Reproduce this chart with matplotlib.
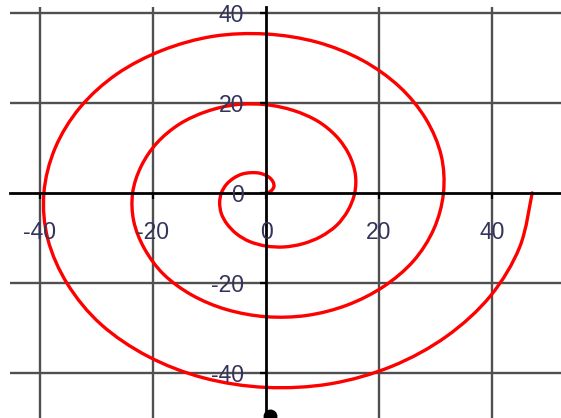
import matplotlib
matplotlib.use("Agg")
import matplotlib.pyplot as plt
import numpy as np
from matplotlib.path import Path
from matplotlib.patches import PathPatch

plt.rcParams['font.family'] = ['Liberation Sans', 'DejaVu Sans']
plt.rcParams['axes.unicode_minus'] = False

# Spiral points (counter-clockwise from the origin)
spiral_x = [0.0, 0.6, 1.1, 1.4, 1.3, 0.8, 0.0, -1.2, -2.6, -4.2, -5.7, -7.0,
            -7.9, -8.2, -7.9, -6.9, -5.2, -2.9, 0.0, 3.2, 6.5, 9.7, 12.5, 14.5,
            15.7, 15.8, 14.7, 12.5, 9.2, 4.9, 0.0, -5.3, -10.5, -15.3, -19.3, -22.1,
            -23.6, -23.4, -21.5, -18.1, -13.1, -7.0, 0.0, 7.3, 14.4, 20.8, 26.1, 29.7,
            31.4, 31.0, 28.3, 23.6, 17.0, 9.0, 0.0, -9.3, -18.3, -26.4, -32.9, -37.3,
            -39.3, -38.6, -35.1, -29.2, -20.9, -11.0, 0.0, 11.4, 22.3, 31.9, 39.7, 44.9,
            47.1]
spiral_y = [0.0, 0.2, 0.7, 1.4, 2.3, 3.2, 3.9, 4.4, 4.5, 4.2, 3.3, 1.9,
            0.0, -2.2, -4.6, -6.9, -9.1, -10.8, -11.8, -12.0, -11.3, -9.7, -7.2, -3.9,
            0.0, 4.2, 8.5, 12.5, 15.9, 18.3, 19.6, 19.6, 18.1, 15.3, 11.1, 5.9,
            0.0, -6.3, -12.4, -18.1, -22.7, -25.9, -27.5, -27.2, -24.9, -20.8, -15.1, -8.0,
            0.0, 8.3, 16.4, 23.6, 29.5, 33.5, 35.3, 34.8, 31.7, 26.4, 19.0, 10.0,
            0.0, -10.3, -20.3, -29.2, -36.3, -41.1, -43.2, -42.4, -38.5, -31.9, -22.9, -12.0,
            0.0]

x_ticks = [-40, -20, 0, 20, 40]
y_ticks = [-40, -20, 0, 20, 40]
x_tick_labels = ['-40', '-20', '0', '20', '40']
y_tick_labels = ['-40', '-20', '0', '20', '40']

# small black blob at the bottom of the y-axis
blob_x = [0.7]
blob_y = [-49.6]


def smooth_path(xs, ys):
    """Smoothed line through the points (Catmull-Rom as cubic Bezier segments)."""
    p = np.column_stack([xs, ys]).astype(float)
    n = len(p)
    verts = [p[0]]
    codes = [Path.MOVETO]
    for i in range(n - 1):
        p0 = p[i - 1] if i > 0 else p[i]
        p1, p2 = p[i], p[i + 1]
        p3 = p[i + 2] if i + 2 < n else p[i + 1]
        c1 = p1 + (p2 - p0) / 6.0
        c2 = p2 - (p3 - p1) / 6.0
        verts += [c1, c2, p2]
        codes += [Path.CURVE4] * 3
    return Path(verts, codes)


W, H = 561, 418
fig = plt.figure(figsize=(W / 100, H / 100), dpi=100)
fig.patch.set_facecolor('white')
ax = fig.add_axes([10 / W, 0, 551 / W, 411 / H])
ax.set_xlim(-45.3, 52.2)
ax.set_ylim(-50.0, 41.3)

grid_color = '#505050'
for gx in x_ticks:
    if gx != 0:
        ax.axvline(gx, color=grid_color, lw=1.7, zorder=0.5)
for gy in y_ticks:
    if gy != 0:
        ax.axhline(gy, color=grid_color, lw=1.7, zorder=0.5)

ax.add_patch(PathPatch(smooth_path(spiral_x, spiral_y), facecolor='none',
                       edgecolor='#ff0000', lw=2.4, capstyle='round',
                       joinstyle='round', zorder=2))
ax.plot(blob_x, blob_y, 'o', color='black', ms=9, zorder=3, clip_on=False)

for s in ['top', 'right']:
    ax.spines[s].set_visible(False)
ax.spines['left'].set_position(('data', 0))
ax.spines['bottom'].set_position(('data', 0))
for s in ['left', 'bottom']:
    ax.spines[s].set_color('black')
    ax.spines[s].set_linewidth(2.0)
    ax.spines[s].set_zorder(2.5)

label_color = '#33335c'
ax.set_xticks(x_ticks)
ax.set_xticklabels(x_tick_labels)
ax.set_yticks(y_ticks)
ax.set_yticklabels(y_tick_labels)
ax.tick_params(axis='x', direction='out', length=4, width=1.6, color='black',
               pad=16, labelsize=16.5, labelcolor=label_color)
ax.tick_params(axis='y', direction='out', length=4, width=1.6, color='black',
               pad=12, labelsize=16.5, labelcolor=label_color)
ax.set_axisbelow(False)

fig.savefig('out.png', dpi=100, facecolor='white')
